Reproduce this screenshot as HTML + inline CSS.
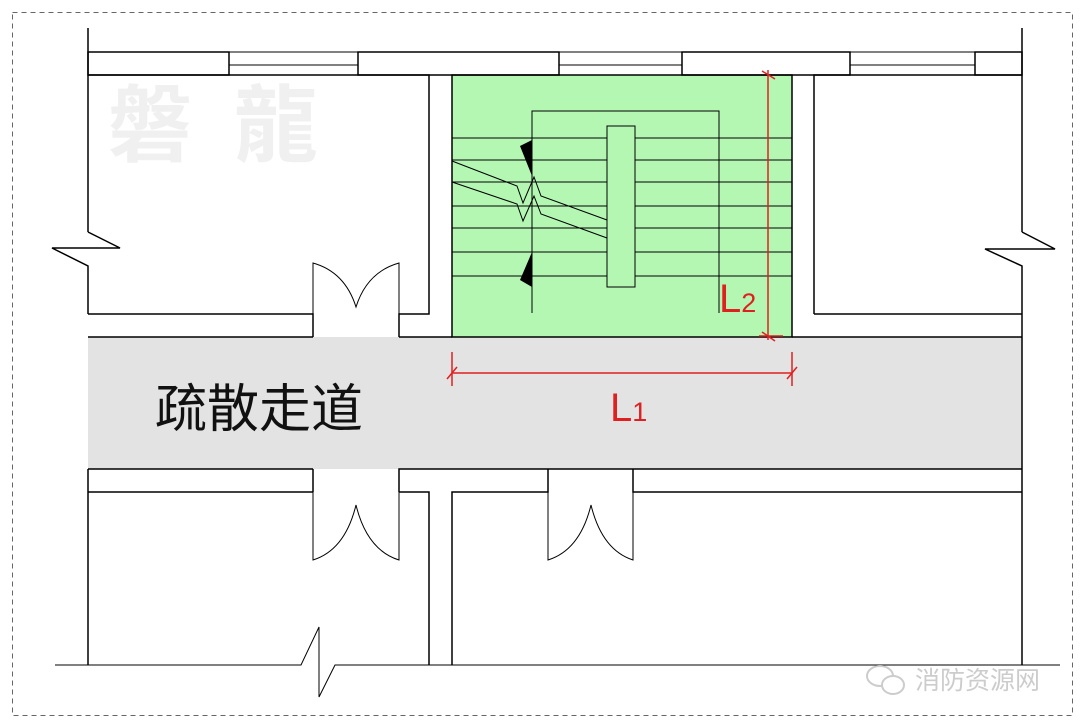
<!DOCTYPE html>
<html><head><meta charset="utf-8"><style>
html,body{margin:0;padding:0;background:#fff;}
svg{display:block}
</style></head><body>
<svg width="1080" height="727" viewBox="0 0 1080 727" xmlns="http://www.w3.org/2000/svg">
<rect x="12.5" y="12.5" width="1060" height="703" fill="none" stroke="#666" stroke-dasharray="5,4" stroke-width="1"/>
<!-- watermark -->
<text x="108" y="155" font-family="Liberation Sans, Noto Sans CJK TC, sans-serif" font-size="84" font-weight="bold" fill="#f0f0f0" letter-spacing="42">磐龍</text>
<!-- corridor -->
<rect x="88" y="337" width="934" height="132" fill="#e3e3e3"/>
<!-- stair green -->
<rect x="452" y="75" width="340" height="262" fill="#b3f7b3" stroke="#000" stroke-width="1.5"/>
<g stroke="#000" fill="none" stroke-width="1.5">
<line x1="88" y1="28" x2="88" y2="232"/>
<polyline points="88,232 120,248 52,248 88,266 88,314"/>
<rect x="88" y="52" width="141" height="23"/>
<rect x="358" y="52" width="201" height="23"/>
<rect x="682" y="52" width="168" height="23"/>
<rect x="975" y="52" width="47" height="23"/>
<line x1="1022" y1="28" x2="1022" y2="232"/>
<polyline points="1022,232 1055,249 985,249 1022,266 1022,665"/>
<polyline points="88,75 429,75 429,314 399,314 399,337"/>
<polyline points="88,314 313,314 313,337"/>
<line x1="88" y1="337" x2="313" y2="337"/>
<line x1="399" y1="337" x2="452" y2="337"/>
<polyline points="850,75 1022,75"/>
<polyline points="814,314 814,75 850,75"/>
<line x1="814" y1="314" x2="1022" y2="314"/>
<line x1="792" y1="337" x2="1022" y2="337"/>
<line x1="88" y1="469" x2="313" y2="469"/>
<line x1="88" y1="492" x2="313" y2="492"/>
<line x1="313" y1="469" x2="313" y2="492"/>
<polyline points="399,492 399,469 633,469"/>
<line x1="633" y1="469" x2="1022" y2="469"/>
<polyline points="399,492 429,492 429,665"/>
<polyline points="452,665 452,492 548,492 548,469"/>
<polyline points="633,469 633,492 1022,492"/>
<line x1="88" y1="469" x2="88" y2="665"/>
</g>
<g stroke="#000" fill="none" stroke-width="1">
<line x1="229" y1="52" x2="358" y2="52"/><line x1="229" y1="65" x2="358" y2="65"/><line x1="229" y1="75" x2="358" y2="75"/>
<line x1="559" y1="52" x2="682" y2="52"/><line x1="559" y1="65" x2="682" y2="65"/><line x1="559" y1="75" x2="682" y2="75"/>
<line x1="850" y1="52" x2="975" y2="52"/><line x1="850" y1="65" x2="975" y2="65"/><line x1="850" y1="75" x2="975" y2="75"/>
<path d="M313,337 L313,263 Q345,272 356,307 Q367,272 399,263 L399,337"/>
<path d="M313,492 L313,560 Q345,550 356,505 Q367,550 399,560 L399,492"/>
<path d="M548,492 L548,560 Q580,550 591,505 Q602,550 633,560 L633,492"/>
<polyline points="55,665 301,665 319,627 319,697 335,665 1060,665"/>
<polyline points="532,313 532,111 719,111 719,313"/>
<rect x="607" y="126" width="28" height="161"/>
<g>
<line x1="452" y1="138" x2="607" y2="138"/><line x1="635" y1="138" x2="792" y2="138"/>
<line x1="452" y1="160" x2="607" y2="160"/><line x1="635" y1="160" x2="792" y2="160"/>
<line x1="452" y1="182" x2="607" y2="182"/><line x1="635" y1="182" x2="792" y2="182"/>
<line x1="452" y1="206" x2="607" y2="206"/><line x1="635" y1="206" x2="792" y2="206"/>
<line x1="452" y1="228" x2="607" y2="228"/><line x1="635" y1="228" x2="792" y2="228"/>
<line x1="452" y1="252" x2="607" y2="252"/><line x1="635" y1="252" x2="792" y2="252"/>
<line x1="452" y1="276" x2="607" y2="276"/><line x1="635" y1="276" x2="792" y2="276"/>
</g>
<polyline points="452,161 517,186 523,203 534,177 541,196 607,220"/>
<polyline points="452,182 517,204 523,221 534,196 541,214 607,238"/>
</g>
<polygon points="520,146 532,140 532,176" fill="#000"/>
<polygon points="520,280 532,252 532,287" fill="#000"/>
<g stroke="#e02020" stroke-width="1.5" fill="none">
<line x1="768" y1="70" x2="768" y2="340"/>
<line x1="762" y1="71" x2="775" y2="79"/>
<line x1="759" y1="336" x2="783" y2="336"/>
<line x1="762" y1="332" x2="775" y2="341"/>
<line x1="452" y1="373" x2="792" y2="373"/>
<line x1="452" y1="352" x2="452" y2="386"/>
<line x1="792" y1="352" x2="792" y2="386"/>
<line x1="447" y1="379" x2="457" y2="367"/>
<line x1="787" y1="379" x2="797" y2="367"/>
</g>
<text x="719" y="312" font-family="Liberation Sans, sans-serif" font-size="40" fill="#e02020">L<tspan font-size="27">2</tspan></text>
<text x="610" y="421" font-family="Liberation Sans, sans-serif" font-size="40" fill="#e02020">L<tspan font-size="27">1</tspan></text>
<text x="155" y="427" font-family="Liberation Sans, Noto Sans CJK SC, sans-serif" font-size="52" fill="#111">疏散走道</text>
<text x="915" y="689" font-family="Liberation Sans, Noto Sans CJK SC, sans-serif" font-size="25" fill="#ccc">消防资源网</text>
<g fill="none" stroke="#ccc" stroke-width="2">
<ellipse cx="880" cy="676" rx="13" ry="10"/>
<ellipse cx="893" cy="685" rx="11" ry="9" fill="#fff"/>
</g>
</svg>
</body></html>
